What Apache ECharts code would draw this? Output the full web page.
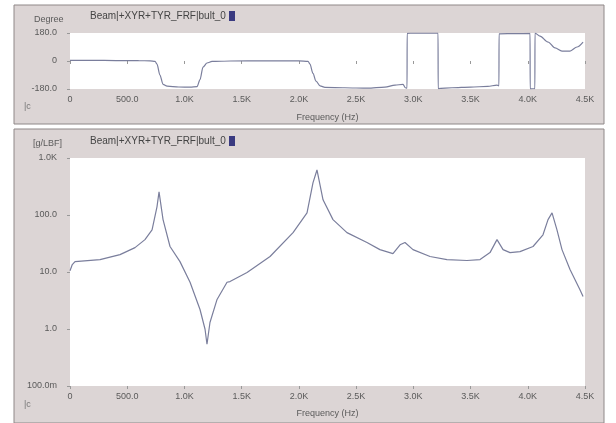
<!DOCTYPE html>
<html>
<head>
<meta charset="utf-8">
<script src="https://cdn.jsdelivr.net/npm/echarts@6/dist/echarts.min.js"></script>
<style>
  html, body { margin: 0; padding: 0; background: #fff; }
  #chart { width: 616px; height: 423px; }
</style>
</head>
<body>
<div id="chart"></div>
<script>
  // tick labels
  var freqTicks = ['0', '500.0', '1.0K', '1.5K', '2.0K', '2.5K', '3.0K', '3.5K', '4.0K', '4.5K']
  var phaseTicks = ['-180.0', '0', '180.0']
  var magTicks = ['100.0m', '1.0', '10.0', '100.0', '1.0K']

  // phase (deg) vs frequency (Hz)
  var phaseFreq = [0, 200, 400, 600, 700, 743, 760, 786, 813, 848, 950, 1050, 1110, 1136, 1162, 1197, 1241, 1400, 1700,
    2000, 2080, 2097, 2123, 2150, 2185, 2228, 2400, 2600, 2752, 2840, 2910, 2930, 2945, 2946, 3000, 3216, 3217, 3338,
    3500, 3650, 3731, 3748, 3749, 3900, 4020, 4021, 4062, 4063, 4107, 4177, 4238, 4299, 4369, 4430, 4483]
  var phaseDeg = [4, 4, 3, 2, 1, -2, -20, -90, -150, -162, -167, -168, -165, -120, -40, -13, -3, 0, 1,
    1, -2, -20, -80, -130, -160, -170, -172, -175, -168, -155, -150, -172, -175, 178, 180, 179, -178, -172,
    -168, -163, -155, -160, 175, 176, 177, -179, -178, 179, 160, 122, 84, 64, 64, 90, 122]

  // magnitude (g/LBF) vs frequency (Hz)
  var magFreq = [0, 20, 44, 262, 437, 568, 655, 717, 760, 778, 813, 874, 961, 1049, 1136, 1180, 1197, 1223, 1285, 1372,
    1398, 1547, 1748, 1949, 2071, 2123, 2158, 2211, 2298, 2420, 2595, 2708, 2822, 2884, 2927, 2997, 3146, 3294, 3469,
    3583, 3670, 3731, 3784, 3845, 3932, 4046, 4133, 4177, 4212, 4255, 4299, 4369, 4456, 4483]
  var magValue = [10.5, 13.5, 15.2, 16.5, 20.2, 26.8, 37, 55, 139, 255, 83, 28, 15.2, 6.6, 2.2, 0.99, 0.54, 1.3, 3.3, 6.6,
    6.8, 9.8, 18.7, 49, 109, 366, 617, 185, 83, 49, 33, 24.7, 21, 30, 33, 24.7, 18.7, 16.5, 15.9,
    16.5, 21.9, 37, 24.7, 21.9, 22.8, 28, 45, 83, 109, 55, 24.7, 11.1, 4.9, 3.7]

  var phaseData = phaseFreq.map(function (f, i) { return [f, phaseDeg[i]] })
  var magData = magFreq.map(function (f, i) { return [f, magValue[i]] })

  var lineColor = '#7a7e9c'
  var labelColor = '#5a5a5a'
  var panelColor = '#dcd5d5'

  var chart = echarts.init(document.getElementById('chart'))

  function freqAxis(gridIndex, nameGap) {
    return {
      type: 'value',
      gridIndex: gridIndex,
      min: 0,
      max: 4500,
      interval: 500,
      name: 'Frequency (Hz)',
      nameLocation: 'middle',
      nameGap: nameGap,
      nameTextStyle: { color: labelColor, fontSize: 9, fontFamily: 'Liberation Sans' },
      axisLine: { show: false },
      axisTick: { show: true, length: 3, lineStyle: { color: '#999' } },
      splitLine: { show: false },
      axisLabel: {
        color: labelColor,
        fontSize: 9,
        fontFamily: 'Liberation Sans',
        margin: 6,
        formatter: function (v) { return freqTicks[Math.round(v / 500)] }
      }
    }
  }

  chart.setOption({
    backgroundColor: '#fff',
    animation: false,
    graphic: [
      { type: 'rect', shape: { x: 14, y: 5, width: 590, height: 119 }, style: { fill: panelColor, stroke: '#8f8888', lineWidth: 1 }, z: -10 },
      { type: 'rect', shape: { x: 14, y: 129, width: 590, height: 294 }, style: { fill: panelColor, stroke: '#8f8888', lineWidth: 1 }, z: -10 },
      { type: 'text', left: 34, top: 15, style: { text: 'Degree', fill: labelColor, font: '9px Liberation Sans' } },
      { type: 'text', left: 33, top: 139, style: { text: '[g/LBF]', fill: labelColor, font: '9px Liberation Sans' } },
      { type: 'text', left: 90, top: 11, style: { text: 'Beam|+XYR+TYR_FRF|bult_0', fill: '#444', font: '10px Liberation Sans' } },
      { type: 'rect', shape: { x: 229, y: 11, width: 6, height: 10 }, style: { fill: '#3a3a80' } },
      { type: 'text', left: 90, top: 136, style: { text: 'Beam|+XYR+TYR_FRF|bult_0', fill: '#444', font: '10px Liberation Sans' } },
      { type: 'rect', shape: { x: 229, y: 136, width: 6, height: 10 }, style: { fill: '#3a3a80' } },
      { type: 'text', left: 24, top: 102, style: { text: '|c', fill: '#777', font: '9px Liberation Sans' } },
      { type: 'text', left: 24, top: 400, style: { text: '|c', fill: '#777', font: '9px Liberation Sans' } }
    ],
    grid: [
      { left: 70, top: 33, width: 515, height: 56, show: true, backgroundColor: '#fff', borderWidth: 0 },
      { left: 70, top: 158, width: 515, height: 229, show: true, backgroundColor: '#fff', borderWidth: 0 }
    ],
    xAxis: [freqAxis(0, 24), freqAxis(1, 23)],
    yAxis: [
      {
        type: 'value',
        gridIndex: 0,
        min: -180,
        max: 180,
        interval: 180,
        axisLine: { show: false },
        axisTick: { show: true, length: 3, lineStyle: { color: '#999' } },
        splitLine: { show: false },
        axisLabel: {
          color: labelColor,
          fontSize: 9,
          fontFamily: 'Liberation Sans',
          margin: 13,
          formatter: function (v) { return phaseTicks[Math.round(v / 180) + 1] }
        }
      },
      {
        type: 'log',
        logBase: 10,
        gridIndex: 1,
        min: 0.1,
        max: 1000,
        axisLine: { show: false },
        axisTick: { show: true, length: 3, lineStyle: { color: '#999' } },
        splitLine: { show: false },
        axisLabel: {
          color: labelColor,
          fontSize: 9,
          fontFamily: 'Liberation Sans',
          margin: 13,
          formatter: function (v) { return magTicks[Math.round(Math.log10(v)) + 1] }
        }
      }
    ],
    series: [
      {
        type: 'line',
        xAxisIndex: 0,
        yAxisIndex: 0,
        data: phaseData,
        showSymbol: false,
        smooth: 0.3,
        smoothMonotone: 'x',
        lineStyle: { color: lineColor, width: 1.2 }
      },
      {
        type: 'line',
        xAxisIndex: 1,
        yAxisIndex: 1,
        data: magData,
        showSymbol: false,
        lineStyle: { color: lineColor, width: 1.2 }
      }
    ]
  })
</script>
</body>
</html>
